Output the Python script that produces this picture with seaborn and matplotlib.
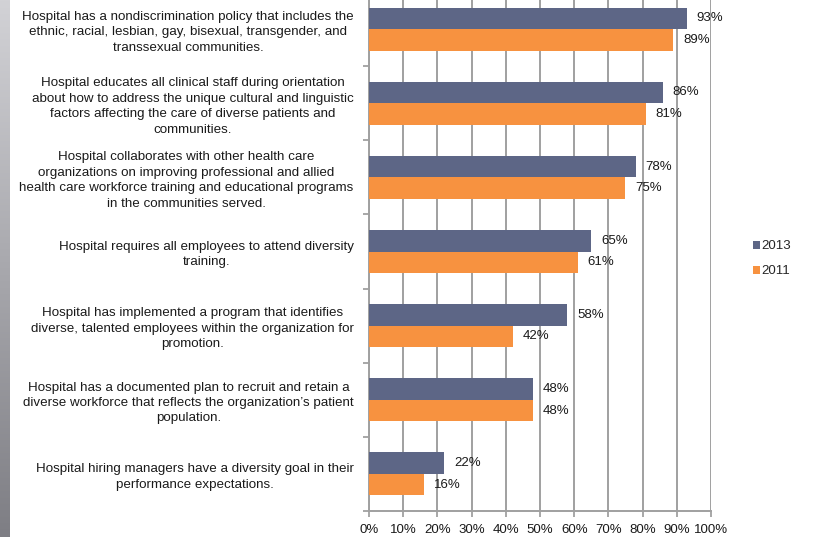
import numpy as np
import pandas as pd
import matplotlib
matplotlib.use("Agg")
import matplotlib.pyplot as plt
from matplotlib.patches import Patch
from matplotlib.ticker import PercentFormatter
import seaborn as sns

statements = [
    "Hospital has a nondiscrimination policy that includes the\nethnic, racial, lesbian, gay, bisexual, transgender, and\ntranssexual communities.",
    "Hospital educates all clinical staff during orientation\nabout how to address the unique cultural and linguistic\nfactors affecting the care of diverse patients and\ncommunities.",
    "Hospital collaborates with other health care\norganizations on improving professional and allied\nhealth care workforce training and educational programs\nin the communities served.",
    "Hospital requires all employees to attend diversity\ntraining.",
    "Hospital has implemented a program that identifies\ndiverse, talented employees within the organization for\npromotion.",
    "Hospital has a documented plan to recruit and retain a\ndiverse workforce that reflects the organization\u2019s patient\npopulation.",
    "Hospital hiring managers have a diversity goal in their\nperformance expectations.",
]
pct_2013 = [93, 86, 78, 65, 58, 48, 22]
pct_2011 = [89, 81, 75, 61, 42, 48, 16]
years = ["2013", "2011"]
x_ticks = list(range(0, 101, 10))

colors = {"2013": "#5D6686", "2011": "#F79240"}
grid_gray = "#A0A0A0"

df = pd.DataFrame({
    "statement": statements * 2,
    "year": ["2013"] * len(statements) + ["2011"] * len(statements),
    "pct": pct_2013 + pct_2011,
})

sns.set_theme(style="white")
plt.rcParams["font.family"] = ["Liberation Sans", "DejaVu Sans"]

fig = plt.figure(figsize=(8.13, 5.37), dpi=100)
fig.patch.set_facecolor("white")

# grey gradient strip along the left edge of the slide
strip = fig.add_axes([0, 0, 0.0123, 1])
grad = np.linspace(0, 1, 256).reshape(-1, 1)
strip.imshow(grad, aspect="auto", cmap=matplotlib.colors.LinearSegmentedColormap.from_list(
    "strip", ["#D2D2D6", "#7E7E84"]), extent=[0, 1, 0, 1], origin="upper")
strip.set_axis_off()

ax = fig.add_axes([0.4539, 0.0484, 0.8745 - 0.4539, 1.0149 - 0.0484])
sns.barplot(data=df, y="statement", x="pct", hue="year", hue_order=years,
            order=statements, palette=colors, orient="h", width=0.58,
            ax=ax, legend=False, saturation=1, linewidth=0, zorder=3)

for cont in ax.containers:
    ax.bar_label(cont, fmt="%d%%", padding=7, fontsize=9.5, color="#1a1a1a")

ax.set_xlim(0, 100)
ax.set_ylim(len(statements) - 0.5, -0.5)
ax.set_xticks(x_ticks)
ax.xaxis.set_major_formatter(PercentFormatter(decimals=0))
ax.set_xlabel("")
ax.set_ylabel("")

# category separators as outward ticks on the y axis
ax.set_yticks(np.arange(len(statements)))
ax.set_yticklabels(statements, fontsize=9.6, multialignment="center",
                   color="#1a1a1a", linespacing=1.38)
ax.set_yticks(np.arange(len(statements)) + 0.5, minor=True)
ax.tick_params(axis="y", which="major", length=0, pad=11)
ax.tick_params(axis="y", which="minor", length=4, width=1.3, color=grid_gray, direction="out", left=True)
ax.tick_params(axis="x", length=4, width=1.3, color=grid_gray, direction="out", bottom=True,
               labelsize=9.5, labelcolor="#1a1a1a", pad=5)

ax.grid(axis="x", color=grid_gray, linewidth=1.4, zorder=0)
ax.grid(axis="y", visible=False)
for side in ["top", "right"]:
    ax.spines[side].set_visible(False)
for side in ["left", "bottom"]:
    ax.spines[side].set_color(grid_gray)
    ax.spines[side].set_linewidth(1.4)

handles = [Patch(facecolor=colors[y], edgecolor="none", label=y) for y in years]
fig.legend(handles=handles, loc="center left", bbox_to_anchor=(0.911, 0.518),
           frameon=False, fontsize=9.5, handlelength=0.55, handleheight=0.55,
           handletextpad=0.15, labelspacing=1.0)

fig.savefig("out.png", dpi=100)
